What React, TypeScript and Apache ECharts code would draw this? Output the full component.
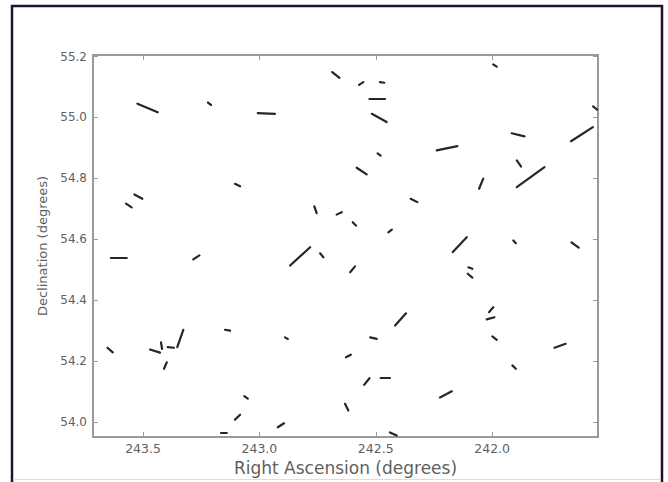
import React, { useEffect, useRef } from "react";
import * as echarts from "echarts";

// Segment start / end points (RA, Dec in degrees)
const raStart = [243.524, 243.221, 243.537, 243.573, 242.687, 243.007, 243.105, 242.764, 242.668, 242.572,
  242.482, 242.527, 242.517, 242.238, 242.492, 242.582, 242.350, 242.599, 242.446, 242.169,
  241.995, 241.566, 241.916, 241.661, 241.894, 241.894, 242.056, 241.909, 241.659, 243.638,
  243.284, 243.653, 243.470, 243.423, 243.394, 243.353, 243.410, 242.868, 242.739, 243.148,
  242.890, 243.065, 243.105, 242.921, 243.165, 242.628, 242.632, 242.610, 242.417, 242.524,
  242.550, 242.479, 242.224, 242.439, 242.102, 242.105, 242.013, 242.023, 241.999, 241.732, 241.913];
const decStart = [55.045, 55.049, 54.747, 54.717, 55.149, 55.014, 54.782, 54.708, 54.681, 55.107,
  55.116, 55.063, 55.012, 54.892, 54.882, 54.835, 54.733, 54.656, 54.623, 54.558,
  55.174, 55.036, 54.948, 54.922, 54.859, 54.771, 54.766, 54.596, 54.590, 54.538,
  54.534, 54.244, 54.238, 54.262, 54.246, 54.246, 54.175, 54.514, 54.554, 54.303,
  54.278, 54.085, 54.008, 53.983, 53.966, 54.213, 54.060, 54.492, 54.317, 54.278,
  54.122, 54.144, 54.081, 53.966, 54.508, 54.487, 54.361, 54.337, 54.281, 54.244, 54.186];
const raEnd = [243.437, 243.208, 243.503, 243.549, 242.656, 242.933, 243.083, 242.754, 242.646, 242.553,
  242.463, 242.460, 242.453, 242.149, 242.479, 242.539, 242.321, 242.585, 242.431, 242.109,
  241.980, 241.549, 241.861, 241.567, 241.876, 241.775, 242.038, 241.898, 241.628, 243.570,
  243.258, 243.630, 243.427, 243.418, 243.367, 243.327, 243.398, 242.782, 242.725, 243.126,
  242.878, 243.050, 243.083, 242.894, 243.140, 242.607, 242.618, 242.589, 242.370, 242.496,
  242.527, 242.439, 242.173, 242.410, 242.085, 242.085, 241.995, 241.990, 241.980, 241.684, 241.898];
const decEnd = [55.017, 55.041, 54.733, 54.705, 55.130, 55.012, 54.774, 54.686, 54.689, 55.116,
  55.114, 55.063, 54.985, 54.906, 54.875, 54.813, 54.722, 54.645, 54.632, 54.607,
  55.167, 55.026, 54.938, 54.968, 54.839, 54.837, 54.799, 54.587, 54.573, 54.538,
  54.547, 54.229, 54.228, 54.240, 54.244, 54.303, 54.196, 54.574, 54.541, 54.300,
  54.273, 54.077, 54.024, 53.996, 53.965, 54.221, 54.038, 54.511, 54.357, 54.273,
  54.144, 54.144, 54.101, 53.956, 54.503, 54.474, 54.377, 54.344, 54.270, 54.257, 54.175];

const xTicks = [243.5, 243.0, 242.5, 242.0];
const yTicks = [54.0, 54.2, 54.4, 54.6, 54.8, 55.0, 55.2];
const X_MIN = 241.545;
const X_MAX = 243.715;
const Y_MIN = 53.951;
const Y_MAX = 55.205;

const FONT = "DejaVu Sans";
const AXIS_COLOR = "#9a9a9a";
const LABEL_COLOR = "#5f5f5f";

export default function App() {
  const ref = useRef<HTMLDivElement>(null);

  useEffect(() => {
    if (!ref.current) return;
    const chart = echarts.init(ref.current, undefined, { renderer: "svg" });

    const segData = raStart.map((ra, i) => ({
      coords: [
        [ra, decStart[i]],
        [raEnd[i], decEnd[i]],
      ],
    }));

    const axisLine = { show: true, onZero: false, lineStyle: { color: AXIS_COLOR, width: 2 } };

    const option: any = {
      animation: false,
      backgroundColor: "#ffffff",
      grid: { left: 93, right: 70, top: 55, bottom: 45, containLabel: false },
      xAxis: [
        {
          type: "value",
          inverse: true,
          min: X_MIN,
          max: X_MAX,
          position: "bottom",
          axisLine,
          splitLine: { show: false },
          axisTick: { show: true, inside: true, length: 5, customValues: xTicks, lineStyle: { color: AXIS_COLOR } },
          axisLabel: {
            show: true,
            customValues: xTicks,
            formatter: (v: number) => v.toFixed(1),
            color: LABEL_COLOR,
            fontFamily: FONT,
            fontSize: 12.5,
            margin: 5,
          },
          name: "Right Ascension (degrees)",
          nameLocation: "middle",
          nameGap: 14,
          nameTextStyle: { color: LABEL_COLOR, fontFamily: FONT, fontSize: 17 },
        },
        {
          type: "value",
          inverse: true,
          min: X_MIN,
          max: X_MAX,
          position: "top",
          axisLine,
          splitLine: { show: false },
          axisTick: { show: true, inside: true, length: 5, customValues: xTicks, lineStyle: { color: AXIS_COLOR } },
          axisLabel: { show: false },
        },
      ],
      yAxis: [
        {
          type: "value",
          min: Y_MIN,
          max: Y_MAX,
          position: "left",
          axisLine,
          splitLine: { show: false },
          axisTick: { show: true, inside: true, length: 5, customValues: yTicks, lineStyle: { color: AXIS_COLOR } },
          axisLabel: {
            show: true,
            customValues: yTicks,
            formatter: (v: number) => v.toFixed(1),
            color: LABEL_COLOR,
            fontFamily: FONT,
            fontSize: 12,
            margin: 6,
          },
          name: "Declination (degrees)",
          nameLocation: "middle",
          nameRotate: 90,
          nameGap: 40,
          nameTextStyle: { color: LABEL_COLOR, fontFamily: FONT, fontSize: 13 },
        },
        {
          type: "value",
          min: Y_MIN,
          max: Y_MAX,
          position: "right",
          axisLine,
          splitLine: { show: false },
          axisTick: { show: true, inside: true, length: 5, customValues: yTicks, lineStyle: { color: AXIS_COLOR } },
          axisLabel: { show: false },
        },
      ],
      series: [
        {
          type: "lines",
          coordinateSystem: "cartesian2d",
          xAxisIndex: 0,
          yAxisIndex: 0,
          silent: true,
          lineStyle: { color: "#262626", width: 2.2, opacity: 1, cap: "round" },
          data: segData,
        },
      ],
      graphic: [
        {
          type: "polyline",
          silent: true,
          shape: { points: [[12, 482], [12, 6], [662, 6], [662, 482]] },
          style: { stroke: "#1b1433", lineWidth: 2.5, fill: "none" },
        },
        {
          type: "line",
          silent: true,
          shape: { x1: 13, y1: 479.5, x2: 661, y2: 479.5 },
          style: { stroke: "#dddddd", lineWidth: 1 },
        },
      ],
    };

    chart.setOption(option);
    return () => chart.dispose();
  }, []);

  return (
    <div
      ref={ref}
      style={{ position: "fixed", left: 0, top: 0, width: 668, height: 482, background: "#fff" }}
    />
  );
}
